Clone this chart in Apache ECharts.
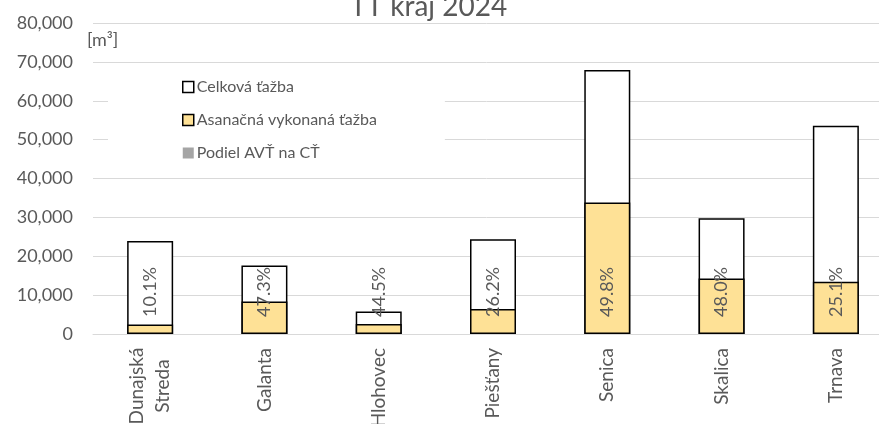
<!DOCTYPE html>
<html>
<head>
<meta charset="utf-8">
<script src="https://cdn.jsdelivr.net/npm/echarts@6/dist/echarts.min.js"></script>
<style>
  html, body { margin: 0; padding: 0; background: #fff; }
  #chart { width: 879px; height: 424px; }
</style>
</head>
<body>
<div id="chart"></div>
<script>
const districts = ["Dunajská Streda", "Galanta", "Hlohovec", "Piešťany", "Senica", "Skalica", "Trnava"];
const totalFelling = [23900, 17600, 5800, 24400, 67900, 29800, 53600];
const sanitaryFelling = [2450, 8350, 2580, 6400, 33800, 14300, 13450];
const sanitaryShare = [10.1, 47.3, 44.5, 26.2, 49.8, 48.0, 25.1];

const textColor = "#595959";
const font = "Lato";

const chart = echarts.init(document.getElementById("chart"));

chart.setOption({
  animation: false,
  textStyle: { fontFamily: font },
  title: {
    text: "TT kraj 2024",
    left: 350,
    top: -7,
    padding: 0,
    textStyle: { color: textColor, fontSize: 28, fontWeight: "normal", fontFamily: font },
  },
  legend: {
    orient: "vertical",
    left: 108,
    top: 65,
    padding: [14, 68, 8, 74],
    backgroundColor: "#fff",
    icon: "rect",
    itemWidth: 11,
    itemHeight: 11,
    itemGap: 17,
    textStyle: { color: textColor, fontSize: 16, fontFamily: font, padding: [0, 0, 0, -2] },
    data: [
      { name: "Celková ťažba", itemStyle: { color: "#fff", borderColor: "#000", borderWidth: 1.5 } },
      { name: "Asanačná vykonaná ťažba", itemStyle: { color: "#FEE196", borderColor: "#000", borderWidth: 1.5 } },
      { name: "Podiel AVŤ na CŤ", itemStyle: { color: "#A5A5A5", borderWidth: 0 } },
    ],
  },
  grid: {
    left: 93,
    top: 23,
    width: 800,
    height: 311,
    containLabel: false,
    outerBoundsMode: "none",
  },
  xAxis: {
    type: "category",
    data: districts,
    axisLine: { lineStyle: { color: "#D9D9D9", width: 1 } },
    axisTick: { show: false },
    axisLabel: {
      rotate: 90,
      margin: 14,
      color: textColor,
      fontSize: 19,
      fontFamily: font,
      lineHeight: 26,
      interval: 0,
      formatter: (value) =>
        value.includes(" ")
          ? value.split(" ").map((part) => `{c|${part}}`).join("\n")
          : value,
      rich: {
        c: { width: 76, align: "center", color: textColor, fontSize: 19, fontFamily: font, lineHeight: 26 },
      },
    },
  },
  yAxis: [
    {
      type: "value",
      min: 0,
      max: 80000,
      interval: 10000,
      name: "[m³]",
      nameLocation: "end",
      nameGap: -26,
      nameTextStyle: { color: textColor, fontSize: 18, fontFamily: font, align: "left", padding: [0, 0, 0, -6] },
      axisLine: { show: false },
      axisTick: { show: false },
      axisLabel: {
        color: textColor,
        fontSize: 18,
        fontFamily: font,
        margin: 20,
        formatter: (value) => value.toLocaleString("en-US"),
      },
      splitLine: { lineStyle: { color: "#D9D9D9", width: 1 } },
    },
    {
      type: "value",
      min: 0,
      max: 1000000,
      show: false,
      splitLine: { show: false },
    },
  ],
  series: [
    {
      name: "Celková ťažba",
      type: "bar",
      barWidth: 46,
      barGap: "-100%",
      data: totalFelling,
      itemStyle: { color: "#fff", borderColor: "#000", borderWidth: 1.5 },
      z: 2,
    },
    {
      name: "Asanačná vykonaná ťažba",
      type: "bar",
      barWidth: 46,
      barGap: "-100%",
      data: sanitaryFelling,
      itemStyle: { color: "#FEE196", borderColor: "#000", borderWidth: 1.5 },
      z: 3,
    },
    {
      name: "Podiel AVŤ na CŤ",
      type: "bar",
      yAxisIndex: 1,
      barWidth: 46,
      barGap: "-100%",
      data: sanitaryShare,
      itemStyle: { color: "transparent" },
      z: 4,
      label: {
        show: true,
        position: "insideBottom",
        distance: 17,
        rotate: 90,
        align: "left",
        verticalAlign: "middle",
        color: textColor,
        fontSize: 18,
        fontFamily: font,
        formatter: (p) => p.value.toFixed(1) + "%",
      },
    },
  ],
});
</script>
</body>
</html>
